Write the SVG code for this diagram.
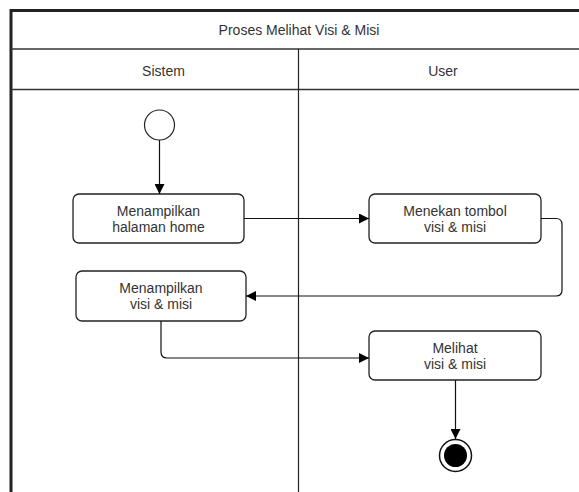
<svg xmlns="http://www.w3.org/2000/svg" width="579" height="492" viewBox="0 0 579 492">
<style>
.t{font-family:"Liberation Sans",Arial,sans-serif;font-size:14px;fill:#333;text-anchor:middle}
.box{fill:#fff;stroke:#222;stroke-width:1.3}
.c{fill:none;stroke:#111;stroke-width:1.2}
.frame{fill:none;stroke:#222;stroke-width:3}
.sep{fill:none;stroke:#333;stroke-width:1.5}
</style>
<defs>
<marker id="arr" viewBox="0 0 10 10" refX="10" refY="5" markerWidth="10" markerHeight="10" markerUnits="userSpaceOnUse" orient="auto">
<path d="M0,0 L10,5 L0,10 z" fill="#000"/>
</marker>
</defs>
<rect width="579" height="492" fill="#fff"/>
<g id="pool">
<path class="frame" d="M11,492 V10.5 H579"/>
<line class="sep" x1="11" y1="49" x2="579" y2="49"/>
<line class="sep" x1="11" y1="89.5" x2="579" y2="89.5"/>
<line x1="298.5" y1="49" x2="298.5" y2="492" stroke="#222" stroke-width="1.2"/>
<text class="t" x="299" y="35">Proses Melihat Visi &amp; Misi</text>
<text class="t" x="163.5" y="76">Sistem</text>
<text class="t" x="443" y="76">User</text>
</g>
<g id="start"><circle cx="159.5" cy="125" r="15" fill="#fff" stroke="#222" stroke-width="1.2"/></g>
<g id="n1"><rect class="box" x="73" y="194" width="171" height="49" rx="6"/>
<text class="t" x="158.5" y="216">Menampilkan</text><text class="t" x="158.5" y="232">halaman home</text></g>
<g id="n2"><rect class="box" x="369" y="194" width="172" height="49" rx="6"/>
<text class="t" x="455" y="216">Menekan tombol</text><text class="t" x="455" y="232">visi &amp; misi</text></g>
<g id="n3"><rect class="box" x="76" y="271" width="170" height="50" rx="6"/>
<text class="t" x="161" y="293">Menampilkan</text><text class="t" x="161" y="309">visi &amp; misi</text></g>
<g id="n4"><rect class="box" x="369" y="331" width="172" height="49" rx="6"/>
<text class="t" x="455" y="353">Melihat</text><text class="t" x="455" y="369">visi &amp; misi</text></g>
<g id="end"><circle cx="455.5" cy="455.5" r="16" fill="#fff" stroke="#111" stroke-width="1.5"/><circle cx="455.5" cy="455.5" r="11.5" fill="#000"/></g>
<g id="connectors">
<path class="c" d="M159.5,140 V194" marker-end="url(#arr)"/>
<path class="c" d="M244,218.5 H369" marker-end="url(#arr)"/>
<path class="c" d="M541,218.5 H556 Q562,218.5 562,224.5 V290 Q562,296 556,296 H246" marker-end="url(#arr)"/>
<path class="c" d="M161,321 V352 Q161,358 167,358 H369" marker-end="url(#arr)"/>
<path class="c" d="M455.5,380 V439" marker-end="url(#arr)"/>
</g>
</svg>
